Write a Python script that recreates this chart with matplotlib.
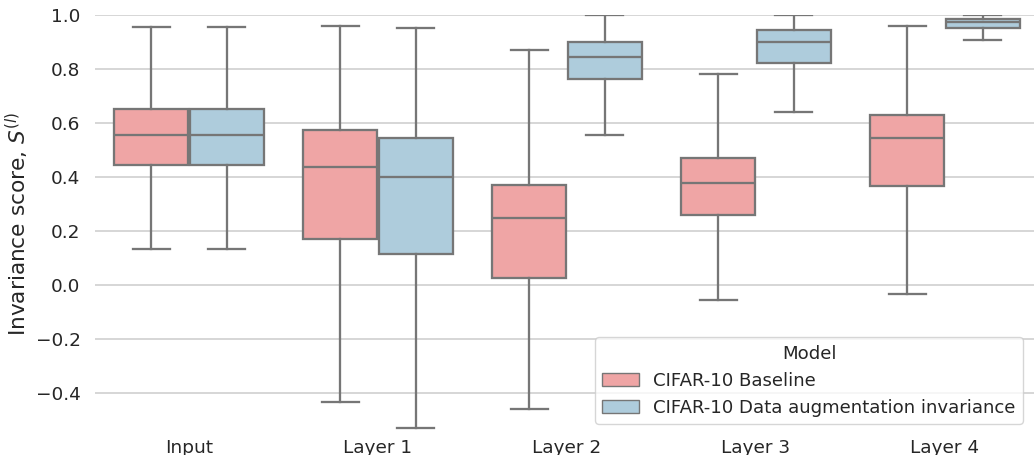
import matplotlib
matplotlib.use("Agg")
import matplotlib.pyplot as plt
from matplotlib.patches import Patch

plt.rcParams["font.family"] = ["DejaVu Sans"]
plt.rcParams["mathtext.fontset"] = "dejavusans"

# category labels and model names
layers = ["Input", "Layer 1", "Layer 2", "Layer 3", "Layer 4"]
models = ["CIFAR-10 Baseline", "CIFAR-10 Data augmentation invariance"]

# box statistics (per layer)
base_whislo = [0.132, -0.433, -0.458, -0.054, -0.032]
base_q1 = [0.443, 0.172, 0.028, 0.260, 0.365]
base_med = [0.557, 0.436, 0.247, 0.377, 0.544]
base_q3 = [0.651, 0.574, 0.370, 0.469, 0.628]
base_whishi = [0.957, 0.960, 0.869, 0.783, 0.958]

aug_whislo = [0.135, -0.531, 0.554, 0.640, 0.906]
aug_q1 = [0.443, 0.115, 0.762, 0.823, 0.952]
aug_med = [0.554, 0.402, 0.844, 0.899, 0.973]
aug_q3 = [0.651, 0.544, 0.899, 0.943, 0.987]
aug_whishi = [0.954, 0.953, 0.999, 0.999, 0.999]

colors = ["#efa5a5", "#aeccdc"]
gray = "#767676"


def make_stats(lo, q1, med, q3, hi):
    return [dict(whislo=a, q1=b, med=c, q3=d, whishi=e, fliers=[])
            for a, b, c, d, e in zip(lo, q1, med, q3, hi)]


series = [make_stats(base_whislo, base_q1, base_med, base_q3, base_whishi),
          make_stats(aug_whislo, aug_q1, aug_med, aug_q3, aug_whishi)]

fig = plt.figure(figsize=(10.34, 4.55), dpi=100)
ax = fig.add_axes([94.5 / 1034, 1 - 432 / 455, 945 / 1034, 417 / 455])

# grid behind boxes
ax.set_axisbelow(True)
ax.yaxis.grid(True, color="#cccccc", linewidth=1.1)
ax.xaxis.grid(False)

lw = 1.65
for k, stats in enumerate(series):
    pos = [i - 0.2 + 0.4 * k for i in range(len(layers))]
    ax.bxp(stats, positions=pos, widths=0.392, capwidths=0.196,
           showfliers=False, patch_artist=True, manage_ticks=False,
           boxprops=dict(facecolor=colors[k], edgecolor=gray, linewidth=lw),
           medianprops=dict(color=gray, linewidth=lw),
           whiskerprops=dict(color=gray, linewidth=lw),
           capprops=dict(color=gray, linewidth=lw))

ax.set_xlim(-0.5, len(layers) - 0.5)
ax.set_ylim(-0.544, 1.0)
ax.set_xticks(range(len(layers)))
ax.set_xticklabels(layers)
ax.set_yticks([-0.4, -0.2, 0.0, 0.2, 0.4, 0.6, 0.8, 1.0])
ax.tick_params(axis="both", length=0, labelsize=13.3, labelcolor="#262626")
ax.tick_params(axis="y", pad=10)
ax.tick_params(axis="x", pad=5)
for s in ax.spines.values():
    s.set_visible(False)

ax.set_ylabel("Invariance score, $S^{(l)}$", fontsize=15.6, color="#262626")
ax.yaxis.set_label_coords((31 - 94.5) / 945, 0.5)

handles = [Patch(facecolor=colors[k], edgecolor=gray, linewidth=1.0,
                 label=models[k]) for k in range(len(models))]
leg = ax.legend(handles=handles, title="Model", loc="lower right",
                bbox_to_anchor=(1023 / 1034, 1 - 424 / 455),
                bbox_transform=fig.transFigure, borderaxespad=0,
                fontsize=13.1, title_fontsize=13.1, frameon=True)
leg.get_frame().set_edgecolor("#cccccc")
for t in leg.get_texts():
    t.set_color("#262626")
leg.get_title().set_color("#262626")

fig.savefig("out.png", dpi=100)
